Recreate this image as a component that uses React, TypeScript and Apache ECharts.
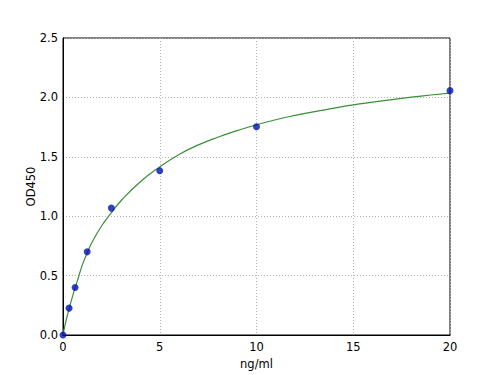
import React, { useEffect, useRef } from "react";
import * as echarts from "echarts";

const concX = [0, 0.3125, 0.625, 1.25, 2.5, 5, 10, 20];
const odY = [0.0, 0.226, 0.40, 0.70, 1.068, 1.382, 1.753, 2.057];

const curveX = [0, 0.1, 0.25, 0.5, 0.75, 1, 1.25, 1.5, 2, 2.5, 3, 4, 5, 6, 7, 8, 9, 10, 11, 12, 13, 14, 15, 16, 17, 18, 19, 20];
const curveY = [0.0, 0.08, 0.18, 0.33, 0.46, 0.59, 0.69, 0.78, 0.92, 1.03, 1.13, 1.29, 1.415, 1.52, 1.6, 1.665, 1.72, 1.77, 1.812, 1.848, 1.88, 1.91, 1.937, 1.96, 1.982, 2.002, 2.02, 2.036];

const xTicks = [0, 5, 10, 15, 20];
const yTicks = [0, 0.5, 1.0, 1.5, 2.0, 2.5];

export default function App() {
  const ref = useRef<HTMLDivElement>(null);
  useEffect(() => {
    document.body.style.margin = "0";
    const chart = echarts.init(ref.current!, undefined, { renderer: "svg" });
    const font = "DejaVu Sans";
    const grid = { show: true, lineStyle: { color: "#b4b4b4", type: [1, 2], width: 1 } };
    chart.setOption({
      animation: false,
      backgroundColor: "#ffffff",
      grid: {
        left: 63,
        top: 38,
        right: 50,
        bottom: 38,
        show: true,
        borderColor: "#000000",
        borderWidth: 1,
        containLabel: false,
      },
      xAxis: {
        type: "value",
        min: xTicks[0],
        max: xTicks[xTicks.length - 1],
        interval: 5,
        name: "ng/ml",
        nameLocation: "middle",
        nameGap: 23,
        nameMoveOverlap: false,
        nameTextStyle: { fontFamily: font, fontSize: 11.5, color: "#000" },
        axisLine: { show: true, lineStyle: { color: "#000", width: 1 } },
        axisTick: { show: false },
        axisLabel: { fontFamily: font, fontSize: 11.5, color: "#000", margin: 6 },
        splitLine: grid,
      },
      yAxis: {
        type: "value",
        min: yTicks[0],
        max: yTicks[yTicks.length - 1],
        interval: 0.5,
        name: "OD450",
        nameLocation: "middle",
        nameGap: 26,
        nameMoveOverlap: false,
        nameTextStyle: { fontFamily: font, fontSize: 11.5, color: "#000" },
        axisLine: { show: true, lineStyle: { color: "#000", width: 1 } },
        axisTick: { show: false },
        axisLabel: {
          fontFamily: font,
          fontSize: 11.5,
          color: "#000",
          margin: 5,
          formatter: (v: number) => v.toFixed(1),
        },
        splitLine: grid,
      },
      series: [
        {
          type: "line",
          data: curveX.map((x, i) => [x, curveY[i]]),
          smooth: true,
          showSymbol: false,
          lineStyle: { color: "#3a8f3a", width: 1.2 },
          z: 2,
        },
        {
          type: "scatter",
          data: concX.map((x, i) => [x, odY[i]]),
          symbol: "circle",
          symbolSize: 7,
          itemStyle: { color: "#0010b0" },
          clip: true,
          z: 3,
        },
      ],
    });
    return () => chart.dispose();
  }, []);
  return <div ref={ref} style={{ width: 500, height: 375 }} />;
}
